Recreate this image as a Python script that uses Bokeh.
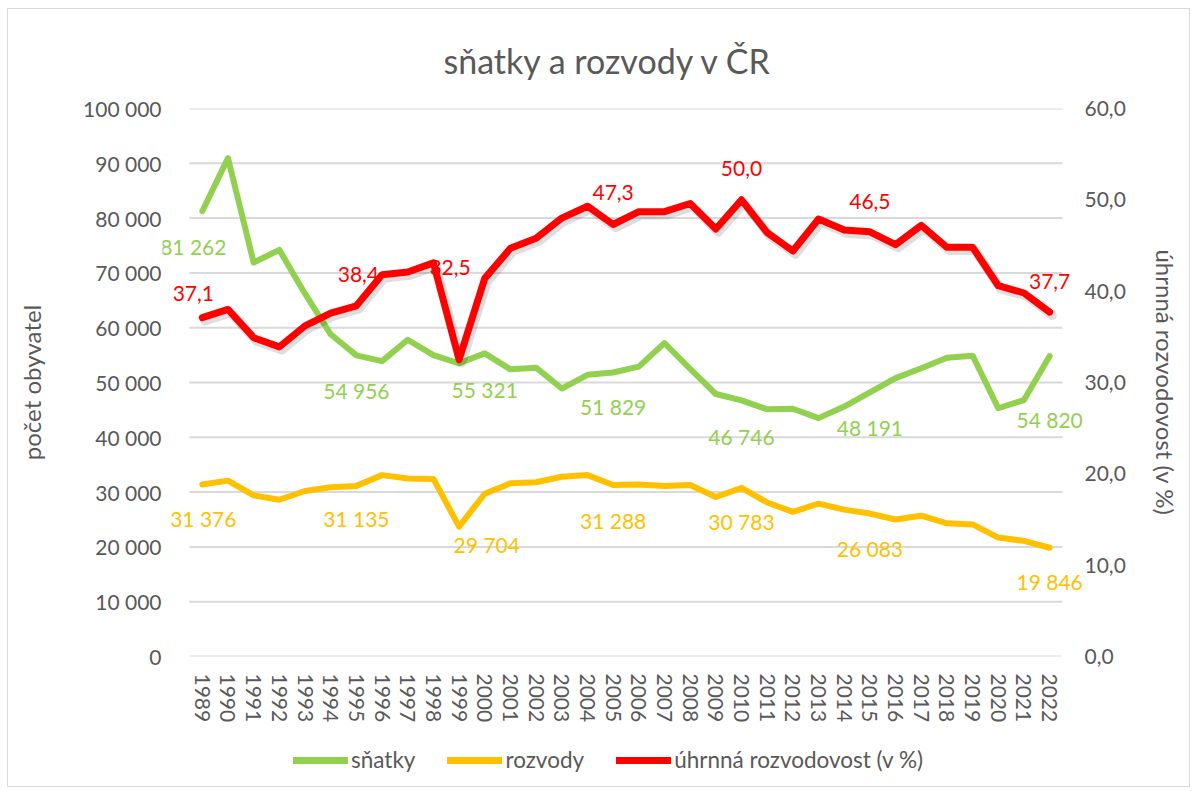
from bokeh.plotting import figure
from bokeh.layouts import column
from bokeh.models import (Range1d, LinearAxis, FixedTicker, CustomJSTickFormatter,
                          Legend, LegendItem, ColumnDataSource)
from bokeh.transform import dodge
from bokeh.core.properties import value
from bokeh.embed import file_html
from bokeh.resources import INLINE

# ---------------- data ----------------
years = [1989, 1990, 1991, 1992, 1993, 1994, 1995, 1996, 1997, 1998, 1999,
         2000, 2001, 2002, 2003, 2004, 2005, 2006, 2007, 2008, 2009, 2010,
         2011, 2012, 2013, 2014, 2015, 2016, 2017, 2018, 2019, 2020, 2021, 2022]

snatky = [81262, 90950, 71900, 74200, 66200, 58800, 54956, 53900, 57800, 55000, 53500,
          55321, 52400, 52700, 48900, 51400, 51829, 52900, 57200, 52500, 47900, 46746,
          45100, 45200, 43500, 45600, 48191, 50800, 52600, 54500, 54900, 45300, 46800, 54820]

rozvody = [31376, 32100, 29400, 28600, 30200, 30900, 31135, 33100, 32500, 32400, 23700,
           29704, 31600, 31800, 32800, 33100, 31288, 31400, 31100, 31300, 29100, 30783,
           28100, 26400, 27900, 26800, 26083, 25000, 25700, 24300, 24100, 21700, 21100, 19846]

rozvodovost = [37.1, 38.0, 34.9, 33.9, 36.2, 37.6, 38.4, 41.8, 42.1, 43.1, 32.5,
               41.4, 44.7, 45.8, 48.0, 49.3, 47.3, 48.7, 48.7, 49.6, 46.8, 50.0,
               46.4, 44.4, 47.9, 46.7, 46.5, 45.1, 47.2, 44.8, 44.8, 40.6, 39.8, 37.7]

# data labels (year, text)
snatky_lbl_years = [1989, 1995, 2000, 2005, 2010, 2015, 2022]
snatky_lbl_text = ["81 262", "54 956", "55 321", "51 829", "46 746", "48 191", "54 820"]
rozvody_lbl_years = [1989, 1995, 2000, 2005, 2010, 2015, 2022]
rozvody_lbl_text = ["31 376", "31 135", "29 704", "31 288", "30 783", "26 083", "19 846"]
rate_lbl_years = [1989, 1995, 1999, 2005, 2010, 2015, 2022]
rate_lbl_text = ["37,1", "38,4", "32,5", "47,3", "50,0", "46,5", "37,7"]

left_ticks = [0, 10000, 20000, 30000, 40000, 50000, 60000, 70000, 80000, 90000, 100000]
right_ticks = [0, 10, 20, 30, 40, 50, 60]

title_text = "sňatky a rozvody v ČR"
left_label = "počet obyvatel"
right_label = "úhrnná rozvodovost (v %)"
series_names = ["sňatky", "rozvody", "úhrnná rozvodovost (v %)"]

# ---------------- styles ----------------
GREEN = "#92D050"
YELLOW = "#FFC000"
RED = "#FF0000"
TXT = "#595959"
GRID = "#D9D9D9"
FONT = "Lato"

# label pixel offsets (style)
snatky_dx = [-9, 0, 0, 0, 0, 0, 0]
snatky_dy = [35, 35, 36, 34, 36, 35, 63]
rozvody_dx = [1, 0, 2, 0, 0, 0, 0]
rozvody_dy = [34, 33, 51, 35, 34, 35, 34]
rate_dx = [-9, 2, -9, 0, 0, 0, 0]
rate_dy = [-24, -31, -92, -32, -31, -30, -31]

src = ColumnDataSource(dict(year=years, snatky=snatky, rozvody=rozvody, rate=rozvodovost))


def lookup(series, ys):
    return [series[years.index(y)] for y in ys]


# category band edges (half a year either side of the first / last year)
x_lo = years[0] - 0.5
x_hi = years[-1] + 0.5

p = figure(frame_width=920, frame_height=548, output_backend="svg", toolbar_location=None,
           x_range=Range1d(x_lo - 1.05, x_hi + 0.78), y_range=Range1d(0, 100000),
           min_border_left=154, min_border_right=107, min_border_top=99, min_border_bottom=75)
p.extra_y_ranges = {"rate": Range1d(0, 60)}
p.outline_line_color = None

# title
p.title.text = title_text
p.title.align = "left"
p.title.offset = 281
p.title.text_font = FONT
p.title.text_font_size = "34px"
p.title.text_font_style = "normal"
p.title.text_color = TXT
p.title.standoff = 56


def style_axis(ax, standoff):
    ax.axis_line_color = None
    ax.major_tick_line_color = None
    ax.minor_tick_line_color = None
    ax.major_tick_out = 0
    ax.major_tick_in = 0
    ax.minor_tick_out = 0
    ax.minor_tick_in = 0
    ax.major_label_standoff = standoff
    ax.major_label_text_font = FONT
    ax.major_label_text_font_size = "21px"
    ax.major_label_text_color = TXT
    ax.axis_label_text_font = FONT
    ax.axis_label_text_font_size = "24px"
    ax.axis_label_text_font_style = "normal"
    ax.axis_label_text_color = TXT


# left axis
ya = p.yaxis[0]
ya.ticker = FixedTicker(ticks=left_ticks)
ya.formatter = CustomJSTickFormatter(code="return tick.toFixed(0).replace(/\\B(?=(\\d{3})+(?!\\d))/g, ' ');")
style_axis(ya, 1)
ya.axis_label = left_label
ya.axis_label_standoff = 34

# right axis
ra = LinearAxis(y_range_name="rate", ticker=FixedTicker(ticks=right_ticks))
ra.formatter = CustomJSTickFormatter(code="return tick.toFixed(1).replace('.', ',');")
style_axis(ra, 2)
ra.axis_label = right_label
ra.axis_label_standoff = 22
p.add_layout(ra, "right")

# x axis
xa = p.xaxis[0]
xa.ticker = FixedTicker(ticks=years)
xa.formatter = CustomJSTickFormatter(code="return tick.toFixed(0);")
style_axis(xa, 17)
xa.major_label_orientation = "vertical"

# grid: horizontal lines spanning the category band only
p.xgrid.visible = False
p.ygrid.visible = False
grid_src = ColumnDataSource(dict(y=left_ticks, x0=[x_lo] * len(left_ticks),
                                 x1=[x_hi] * len(left_ticks)))
p.segment(x0="x0", x1="x1", y0="y", y1="y", source=grid_src, line_color=GRID, line_width=2)

# data labels (drawn first so lines lie over them)
def add_labels(xs, ys, texts, dx, dy, color, yrange="default"):
    s = ColumnDataSource(dict(x=xs, y=ys, t=texts, dx=dx, dy=dy))
    p.text(x="x", y="y", text="t", x_offset="dx", y_offset="dy", source=s,
           text_align="center", text_baseline="middle", text_font=value(FONT),
           text_font_size="21px", text_color=color, y_range_name=yrange)

add_labels(snatky_lbl_years, lookup(snatky, snatky_lbl_years), snatky_lbl_text,
           snatky_dx, snatky_dy, GREEN)
add_labels(rozvody_lbl_years, lookup(rozvody, rozvody_lbl_years), rozvody_lbl_text,
           rozvody_dx, rozvody_dy, YELLOW)
add_labels(rate_lbl_years, lookup(rozvodovost, rate_lbl_years), rate_lbl_text,
           rate_dx, rate_dy, RED, "rate")

# lines
LINE_KW = dict(line_join="round", line_cap="round")
p.line(x="year", y="snatky", source=src, line_color=GREEN, line_width=6, **LINE_KW)
p.line(x="year", y="rozvody", source=src, line_color=YELLOW, line_width=6, **LINE_KW)
# subtle shadow under the red line
p.line(x=dodge("year", 0.1), y=dodge("rate", -0.35), source=src, y_range_name="rate",
       line_color="black", line_alpha=0.13, line_width=9, **LINE_KW)
p.line(x="year", y="rate", source=src, y_range_name="rate", line_color=RED, line_width=7,
       **LINE_KW)

# ---------------- legend strip ----------------
lf = figure(width=1181, height=55, output_backend="svg", toolbar_location=None,
            x_range=Range1d(0, 1), y_range=Range1d(0, 1),
            min_border=0, min_border_left=0, min_border_right=0,
            min_border_top=0, min_border_bottom=0)
lf.axis.visible = False
lf.grid.visible = False
lf.outline_line_color = None
nan_src = ColumnDataSource(dict(x=[float("nan")], y=[float("nan")]))
lg = lf.line(x="x", y="y", source=nan_src, line_color=GREEN, line_width=7, **LINE_KW)
ly = lf.line(x="x", y="y", source=nan_src, line_color=YELLOW, line_width=7, **LINE_KW)
lr = lf.line(x="x", y="y", source=nan_src, line_color=RED, line_width=7, **LINE_KW)
legend = Legend(items=[LegendItem(label=series_names[0], renderers=[lg]),
                       LegendItem(label=series_names[1], renderers=[ly]),
                       LegendItem(label=series_names[2], renderers=[lr])],
                orientation="horizontal", location=(131, 13))
legend.label_text_font = FONT
legend.label_text_font_size = "22.5px"
legend.label_text_color = TXT
legend.glyph_width = 55
legend.glyph_height = 24
legend.label_standoff = 3
legend.spacing = 32
legend.border_line_color = None
legend.background_fill_alpha = 0
legend.margin = 0
legend.padding = 0
lf.add_layout(legend, "center")

layout = column(p, lf, spacing=0,
                styles={"border": "1px solid #D9D9D9", "margin-left": "7px", "margin-top": "8px"})

open("out.html", "w").write(file_html(layout, INLINE))
